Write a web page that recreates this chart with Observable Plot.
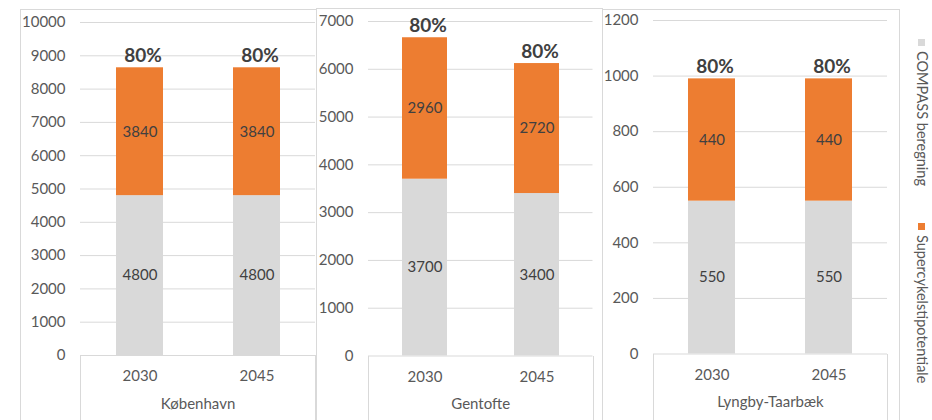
<!DOCTYPE html>
<html>
<head>
<meta charset="utf-8">
<script src="https://cdn.jsdelivr.net/npm/d3@7"></script>
<script src="https://cdn.jsdelivr.net/npm/@observablehq/plot@0.6"></script>
<style>
  html, body { margin: 0; padding: 0; background: #fff; }
  #root { position: relative; width: 932px; height: 420px; overflow: hidden; font-family: Lato, "Open Sans", sans-serif; }
  .panel { position: absolute; border: 1px solid #d9d9d9; box-sizing: border-box; }
  .catbox { position: absolute; border-left: 1px solid #d9d9d9; border-right: 1px solid #d9d9d9; box-sizing: border-box; }
  .plot { position: absolute; top: 0; }
  .legend { position: absolute; writing-mode: vertical-rl; font-size: 14.5px; color: #595959; white-space: nowrap; line-height: 1; }
  .legend .sw { display: inline-block; width: 7px; height: 7px; margin-bottom: 5px; }
</style>
</head>
<body>
<div id="root"></div>
<script>
// ---- data ----
const municipalities = ["København", "Gentofte", "Lyngby-Taarbæk"];
const years = ["2030", "2045"];
const seriesNames = ["COMPASS beregning", "Supercykelstipotentiale"];
const seriesColors = ["#d9d9d9", "#ed7d31"];
const compassValues = [[4800, 4800], [3700, 3400], [550, 550]];
const potentialValues = [[3840, 3840], [2960, 2720], [440, 440]];
const shareLabels = [["80%", "80%"], ["80%", "80%"], ["80%", "80%"]];
const yMax = [10000, 7000, 1200];
const yStep = [1000, 1000, 200];

// ---- layout (panel geometry only) ----
const panels = [
  {left: 20, right: 316, top: 9, plotL: 80, plotR: 315, yTop: 22, yZero: 355},
  {left: 316, right: 602, top: 8, plotL: 368, plotR: 592.5, yTop: 21, yZero: 355.5},
  {left: 602, right: 899, top: 9, plotL: 653, plotR: 887, yTop: 20, yZero: 353.5}
];

const root = document.getElementById("root");

municipalities.forEach((name, i) => {
  const p = panels[i];
  const border = document.createElement("div");
  border.className = "panel";
  Object.assign(border.style, {left: p.left + "px", top: p.top + "px", width: (p.right - p.left + 1) + "px", height: (440 - p.top) + "px"});
  root.appendChild(border);

  const box = document.createElement("div");
  box.className = "catbox";
  Object.assign(box.style, {left: p.plotL + "px", top: p.yZero + "px", width: (p.plotR - p.plotL + 1) + "px", height: (440 - p.yZero) + "px"});
  root.appendChild(box);

  const rows = [];
  const totals = [];
  years.forEach((yr, j) => {
    const a = compassValues[i][j], b = potentialValues[i][j];
    rows.push({year: yr, series: seriesNames[0], lo: 0, hi: a, value: a});
    rows.push({year: yr, series: seriesNames[1], lo: a, hi: a + b, value: b});
    totals.push({year: yr, total: a + b, label: shareLabels[i][j]});
  });
  const ticks = d3.range(0, yMax[i] + 1, yStep[i]);

  const width = p.right - p.left;
  const chart = Plot.plot({
    width,
    height: 420,
    marginLeft: p.plotL - p.left,
    marginRight: p.right - p.plotR,
    marginTop: p.yTop,
    marginBottom: 420 - p.yZero,
    style: {fontFamily: "Lato, 'Open Sans', sans-serif", fontSize: "15px", color: "#595959", background: "transparent", overflow: "visible"},
    x: {domain: years, paddingInner: 0.6, paddingOuter: 0.3, tickSize: 0, tickPadding: 15, label: null},
    y: {domain: [0, yMax[i]], ticks, tickFormat: "d", tickSize: 0, tickPadding: 15, label: null},
    color: {domain: seriesNames, range: seriesColors},
    marks: [
      Plot.ruleY(ticks, {stroke: "#d9d9d9", strokeWidth: 1}),
      Plot.barY(rows, {x: "year", y1: "lo", y2: "hi", fill: "series"}),
      Plot.text(rows, {x: "year", y: d => (d.lo + d.hi) / 2, text: d => String(d.value), fill: "#404040", fontSize: 15}),
      Plot.text(totals, {x: "year", y: "total", text: "label", fill: "#404040", fontSize: 19, fontWeight: "bold", dy: -12, dx: 3}),
      Plot.text([name], {frameAnchor: "bottom", dy: 53, text: d => d, fill: "#595959", fontSize: 15})
    ]
  });
  chart.classList.add("plot");
  chart.style.left = p.left + "px";
  root.appendChild(chart);
});

// legend (rotated, reading top to bottom)
const legendTops = [39, 223];
seriesNames.forEach((s, k) => {
  const item = document.createElement("div");
  item.className = "legend";
  Object.assign(item.style, {left: "914px", top: legendTops[k] + "px"});
  const sw = document.createElement("span");
  sw.className = "sw";
  sw.style.background = seriesColors[k];
  item.appendChild(sw);
  item.appendChild(document.createTextNode(s));
  root.appendChild(item);
});
</script>
</body>
</html>
